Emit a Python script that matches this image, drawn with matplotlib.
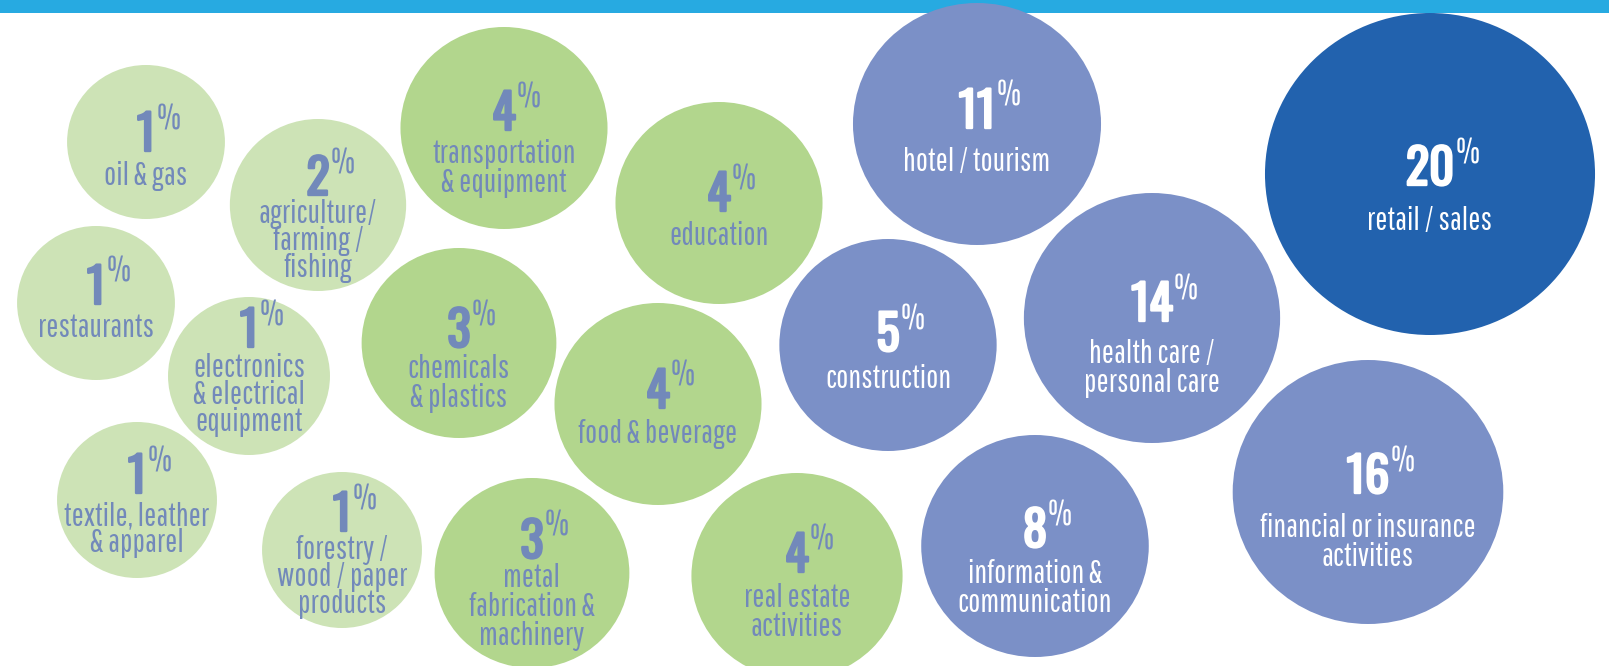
import matplotlib.pyplot as plt
import matplotlib.patheffects as pe
from matplotlib.patches import Ellipse, Rectangle

# sector shares (percent of respondents)
sectors = ["oil & gas", "agriculture/\nfarming /\nfishing", "restaurants",
           "electronics\n& electrical\nequipment", "textile, leather\n& apparel",
           "forestry /\nwood / paper\nproducts", "transportation\n& equipment",
           "education", "chemicals\n& plastics", "food & beverage",
           "metal\nfabrication &\nmachinery", "real estate\nactivities",
           "hotel / tourism", "construction", "health care /\npersonal care",
           "information &\ncommunication", "financial or insurance\nactivities",
           "retail / sales"]
shares = [1, 2, 1, 1, 1, 1, 4, 4, 3, 4, 3, 4, 11, 5, 14, 8, 16, 20]

# bubble layout in pixels (hand placed, like the original graphic)
bx = [146, 318, 96, 249, 137, 342, 504, 719, 459, 658, 532, 797, 977, 888, 1152, 1035, 1368, 1430]
by = [142, 205, 303, 376, 500, 550, 128, 203, 343, 404, 573, 576, 124, 345, 318, 546, 492, 174]
br = [77, 86, 77, 79, 78, 78, 101, 101, 95, 101, 95, 103, 121, 106, 125, 111, 132, 161]
num_y = [151, 195, 304, 347, 493, 531, 130, 211, 347, 408, 558, 572, 128, 351, 321, 547, 493, 185]
lab_y = [185, 223, 337, 377, 525, 559, 163, 245, 378, 443, 587, 607, 171, 388, 363, 583, 537, 230]

NUM_FONT = ['Oswald', 'DejaVu Sans']
LAB_FONT = ['Pathway Gothic One', 'DejaVu Sans']

fig = plt.figure(figsize=(16.09, 6.66), dpi=100)
ax = fig.add_axes([0, 0, 1, 1])
ax.set_xlim(0, 1609)
ax.set_ylim(666, 0)
ax.axis('off')

# top banner
ax.add_patch(Rectangle((0, 0), 1609, 13, color='#27AAE1', lw=0))


def bubble_color(v):
    if v <= 2:
        return '#CDE3B6', '#7289BA'
    if v <= 4:
        return '#B2D68D', '#7289BA'
    if v < 20:
        return '#7B90C7', 'white'
    return '#2262AE', 'white'


renderer = fig.canvas.get_renderer()
inv = ax.transData.inverted()

for name, v, x, y, r, ny, ly in zip(sectors, shares, bx, by, br, num_y, lab_y):
    fc, tc = bubble_color(v)
    ax.add_patch(Ellipse((x, y), 2 * r * 1.025, 2 * r, color=fc, lw=0))

    # Oswald only ships one weight here, a thin stroke makes it look bold
    t = ax.text(x, ny, str(v), ha='center', va='baseline', fontsize=35,
                family=NUM_FONT, color=tc,
                path_effects=[pe.withStroke(linewidth=1.7, foreground=tc)])
    bb = t.get_window_extent(renderer)
    x_right = inv.transform((bb.x1, bb.y0))[0]
    ax.text(x_right + 1, ny - 22, '%', ha='left', va='baseline', fontsize=25,
            family=LAB_FONT, color=tc)

    step = 27 if r < 90 else 29
    for k, line in enumerate(name.split('\n')):
        ax.text(x, ly + k * step, line, ha='center', va='baseline', fontsize=23,
                family=LAB_FONT, color=tc)

fig.savefig('out.png', dpi=100)
